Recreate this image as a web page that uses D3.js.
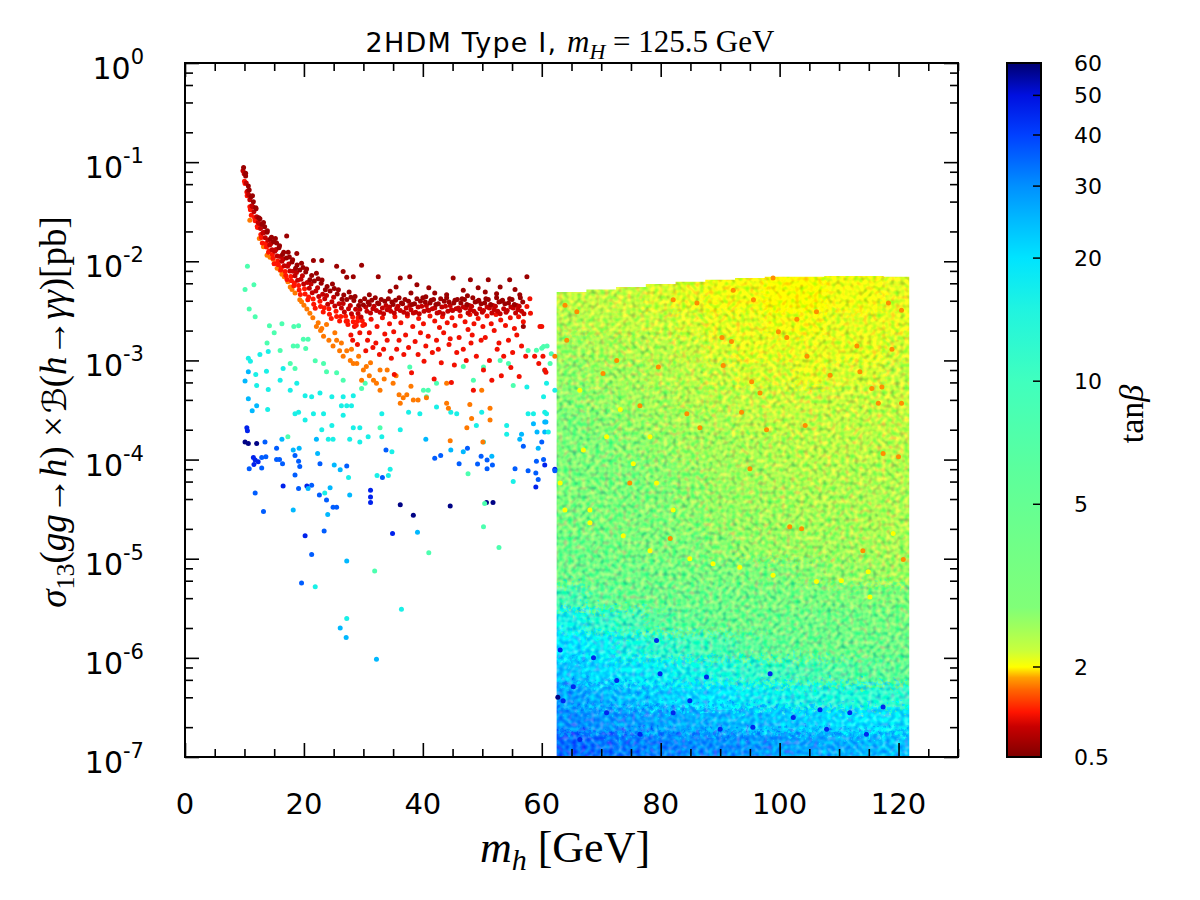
<!DOCTYPE html>
<html lang="en">
<head>
<meta charset="UTF-8">
<title>2HDM Type I scan</title>
<script src="https://d3js.org/d3.v7.min.js"></script>
<style>
  body { margin: 0; background: #fff; }
  .sans { font-family: "DejaVu Sans", sans-serif; }
  .serif { font-family: "Liberation Serif", "DejaVu Serif", serif; }
</style>
</head>
<body>
<svg id="chart" width="1200" height="900"></svg>
<script>
// ---- values ----
const xMajorTicks = [0, 20, 40, 60, 80, 100, 120];
const yExponents = [-7, -6, -5, -4, -3, -2, -1, 0];
const tanTicks = [0.5, 2, 5, 10, 20, 30, 40, 50, 60];

// dense scan region (m_h > 62.5 GeV): column edges, column tops and tan(beta) per cell
const gridMassEdges = [62.5, 67.5, 72.5, 77.5, 82.5, 87.5, 92.5, 97.5, 102.5, 107.5, 112.5, 117.5, 121.8];
const gridTop = [4.9e-3, 5.2e-3, 5.5e-3, 5.9e-3, 6.2e-3, 6.5e-3, 6.8e-3, 7.0e-3, 7.0e-3, 7.1e-3, 7.1e-3, 7.0e-3];
const gridSigmaEdges = [1e-7, 1.8e-7, 3.2e-7, 5.6e-7, 1e-6, 1.8e-6, 3.2e-6, 5.6e-6, 1e-5, 1.8e-5,
                        3.2e-5, 5.6e-5, 1e-4, 1.8e-4, 3.2e-4, 5.6e-4, 1e-3, 1.8e-3, 3.2e-3];
// rows from the bottom (1e-7) upward
const gridTan = [
  [34, 33, 32, 31, 30, 30, 29, 28, 27, 26, 25, 24],
  [30, 29, 28, 27, 26, 25, 24, 23, 22, 21, 20, 19],
  [27, 25, 24, 22, 21, 20, 18, 17, 15, 14, 13, 12],
  [23, 21, 19, 18, 16, 14, 12, 10, 8, 6.5, 5.5, 5],
  [20, 18, 15, 12, 10, 8, 6, 4.8, 4.2, 4.0, 4.0, 4.0],
  [16, 12, 9, 6, 5, 4.2, 4.0, 4.0, 3.9, 3.7, 3.5, 3.4],
  [8, 5, 4.2, 4.0, 4.0, 3.8, 3.6, 3.4, 3.2, 3.0, 2.9, 2.8],
  [4.0, 4.0, 3.8, 3.5, 3.3, 3.1, 2.9, 2.8, 2.7, 2.6, 2.55, 2.5],
  [3.8, 3.5, 3.1, 2.95, 2.85, 2.7, 2.6, 2.55, 2.5, 2.5, 2.45, 2.45],
  [3.2, 3.0, 2.9, 2.8, 2.7, 2.6, 2.55, 2.5, 2.45, 2.45, 2.4, 2.4],
  [2.95, 2.9, 2.85, 2.75, 2.65, 2.55, 2.5, 2.45, 2.4, 2.4, 2.4, 2.4],
  [2.9, 2.85, 2.8, 2.7, 2.6, 2.5, 2.45, 2.4, 2.35, 2.35, 2.35, 2.35],
  [2.85, 2.8, 2.7, 2.6, 2.5, 2.45, 2.4, 2.35, 2.3, 2.3, 2.3, 2.3],
  [2.8, 2.7, 2.6, 2.5, 2.45, 2.4, 2.3, 2.25, 2.25, 2.25, 2.25, 2.25],
  [2.7, 2.6, 2.5, 2.45, 2.35, 2.3, 2.25, 2.2, 2.2, 2.2, 2.2, 2.2],
  [2.6, 2.5, 2.45, 2.35, 2.3, 2.2, 2.15, 2.15, 2.1, 2.15, 2.15, 2.2],
  [2.5, 2.4, 2.35, 2.3, 2.2, 2.15, 2.1, 2.1, 2.1, 2.1, 2.1, 2.15],
  [2.35, 2.3, 2.25, 2.2, 2.15, 2.1, 2.1, 2.05, 2.05, 2.1, 2.1, 2.1],
  [2.25, 2.25, 2.2, 2.15, 2.1, 2.05, 2.05, 2.0, 2.0, 2.05, 2.05, 2.1]
];

// individual points [m_h, sigma x BR], grouped by tan(beta)
const navyPts = [[10.1,1.5e-4],[10.65,1.45e-4],[12.05,1.45e-4],[36.2,3.5e-5],[38.4,2.75e-5],[44.6,3.4e-5],
  [50.7,3.7e-5],[51.8,3.7e-5],[62.7,4.0e-7]];
const deepBluePts = [[10.4,2.1e-4],[10.5,1.95e-4],[11.5,1.05e-4],[11.8,9.9e-5],[12.3,9.5e-5],[11.6,8.9e-5],
  [16.5,5.4e-5],[20.5,5.4e-5],[20.2,1.7e-5],[34.9,1.8e-5],[59.0,5.3e-5],[60.5,8.8e-5],[62.2,8.0e-5],
  [31.2,4.9e-5],[31.2,4.2e-5],[31.2,3.7e-5]];
const bluePts = [[13.45,1.5e-4],[15.4,1.3e-4],[15.9,1.0e-4],[16.4,9.1e-5],[15.4,1.0e-4],[12.9,1.05e-4],
  [13.6,1.07e-4],[10.8,8.1e-5],[12.9,8.2e-5],[11.8,4.6e-5],[13.2,3.0e-5],[18.5,7.0e-5],[19.1,5.1e-5],
  [19.3,8.5e-5],[19.1,9.6e-5],[18.5,1.1e-4],[21.3,5.5e-5],[22.6,4.4e-5],[22.7,9.1e-5],[23.8,3.9e-5],
  [24.9,3.3e-5],[25.5,3.3e-5],[27.2,8.6e-5],[33.2,6.6e-5],[33.8,1.25e-4],[42.0,1.03e-4],[43.0,1.1e-4],
  [46.1,9.1e-5],[47.5,1.3e-4],[49.2,9.0e-5],[49.8,1.08e-4],[50.8,9.9e-5],[50.8,8.1e-5],[51.7,8.8e-5],
  [55.5,8.1e-5],[57.7,7.7e-5],[59.0,7.3e-5],[59.4,6.3e-5],[59.1,9.6e-5],[56.9,1.36e-4],[62.2,7.7e-5],
  [21.3,1.1e-5],[23.4,1.9e-5],[19.6,5.7e-6],[60.0,1.5e-4],[60.3,1.0e-4]];
const lightBluePts = [[10.65,4.1e-4],[10.65,7.7e-4],[10.1,6.2e-4],[11.3,3.1e-4],[12.05,3.5e-4],[16.3,1.6e-4],
  [18.2,1.25e-4],[19.2,1.3e-4],[20.7,5.1e-5],[22.3,1.15e-4],[22.1,1.6e-4],[24.4,5.2e-5],[25.1,8.8e-5],
  [26.1,7.9e-5],[27.7,4.4e-5],[40.5,1.6e-4],[44.7,1.25e-4],[46.8,1.2e-4],[51.6,1.08e-4],[59.4,1.3e-4],
  [56.3,1.6e-4],[56.6,1.8e-4],[58.6,2.3e-4],[59.2,1.9e-4],[60.7,2.4e-4],[24.0,2.8e-5],[18.2,3.1e-5],
  [39.1,1.85e-5],[26.1,2.0e-6],[27.1,1.6e-6],[32.2,9.7e-7],[27.2,9.5e-6],[60.5,2.4e-4],[60.5,1.9e-4]];
const cyanPts = [[10.65,1.05e-3],[11.0,9.8e-4],[12.6,1.15e-3],[14.0,1.23e-3],[16.5,8.3e-4],[13.7,7.8e-4],
  [11.9,7.2e-4],[12.05,5.6e-4],[14.0,5.1e-4],[16.0,6.3e-4],[17.7,5.0e-4],[18.8,5.9e-4],[20.2,4.4e-4],
  [21.3,4.3e-4],[22.7,4.7e-4],[24.7,4.3e-4],[26.6,4.3e-4],[28.3,4.4e-4],[57.5,5.4e-4],[60.5,7.9e-4],
  [60.8,5.9e-4],[60.3,4.3e-4],[62.2,5.0e-4],[60.5,3.0e-4],[18.5,2.9e-4],[19.1,3.0e-4],[20.2,2.5e-4],
  [21.6,2.9e-4],[23.3,2.9e-4],[23.0,2.0e-4],[24.7,2.2e-4],[24.1,1.6e-4],[24.9,1.6e-4],[26.3,3.5e-4],
  [27.2,3.5e-4],[28.0,3.5e-4],[26.6,2.8e-4],[28.3,2.1e-4],[29.4,2.1e-4],[27.7,1.6e-4],[29.4,1.5e-4],
  [30.8,1.7e-4],[33.1,2.9e-4],[33.1,1.7e-4],[36.2,2.0e-4],[37.6,3.0e-4],[39.5,2.9e-4],[42.3,3.4e-4],
  [44.7,3.0e-4],[45.7,2.9e-4],[49.0,2.2e-4],[49.9,3.0e-4],[50.2,1.5e-4],[54.1,2.2e-4],[54.1,1.8e-4],
  [57.7,2.9e-4],[58.6,2.9e-4],[60.8,2.9e-4],[13.9,3.2e-4],[23.5,4.6e-5],[27.5,6.6e-5],[32.3,6.9e-5],
  [34.2,6.9e-5],[34.5,8.0e-5],[34.8,1.2e-4],[61.1,1.9e-4],[55.2,6.0e-5],[21.9,5.2e-6],[36.4,3.1e-6],
  [27.2,2.5e-6]];
const aquaPts = [[10.5,8.9e-3],[10.1,5.2e-3],[11.6,5.8e-3],[10.8,3.3e-3],[11.8,2.75e-3],[14.2,2.24e-3],
  [16.3,2.34e-3],[18.3,2.2e-3],[19.1,2.24e-3],[15.0,1.9e-3],[19.9,1.64e-3],[20.7,1.64e-3],[13.8,1.5e-3],
  [18.2,1.4e-3],[18.9,1.4e-3],[20.3,1.32e-3],[16.0,1.26e-3],[21.9,9.9e-4],[17.7,9.3e-4],[18.5,8.3e-4],
  [23.3,9.3e-4],[23.8,7.7e-4],[25.5,7.5e-4],[26.6,6.3e-4],[29.7,5.2e-4],[30.3,5.9e-4],[37.8,8.6e-4],
  [40.1,5.0e-4],[40.6,4.3e-4],[40.9,5.0e-4],[42.3,5.9e-4],[46.8,8.7e-4],[48.5,6.3e-4],[50.2,8.6e-4],
  [53.0,1.0e-3],[54.4,9.3e-4],[55.2,5.6e-4],[57.7,1.26e-3],[59.1,1.27e-3],[60.3,1.38e-3],[61.4,9.3e-4],
  [60.0,1.33e-3],[60.9,1.4e-3],[61.6,1.17e-3],[17.3,1.7e-4],[32.8,2.1e-4],[47.6,7.2e-5],[50.2,2.1e-5],
  [50.4,3.6e-5],[52.8,1.3e-5],[41.0,1.15e-5],[31.9,7.5e-6]];
const orangePts = [[10.9,2.6e-2],[12.5,1.7e-2],[13.2,1.4e-2],[13.8,1.15e-2],[14.3,1.1e-2],[14.8,1.05e-2],
  [15.0,9.5e-3],[15.5,8.5e-3],[16.0,8.1e-3],[16.3,7.4e-3],[16.7,7.0e-3],[17.3,6.2e-3],[17.7,5.5e-3],
  [18.0,5.2e-3],[18.5,4.8e-3],[19.3,4.1e-3],[19.6,3.9e-3],[20.0,3.6e-3],[20.5,3.3e-3],[21.0,3.0e-3],
  [21.5,2.7e-3],[22.1,2.2e-3],[22.4,2.4e-3],[22.8,2.0e-3],[23.0,2.1e-3],[23.3,1.75e-3],[23.8,2.3e-3],
  [24.2,1.6e-3],[24.9,1.4e-3],[25.2,1.9e-3],[25.5,1.6e-3],[26.0,1.25e-3],[26.3,1.5e-3],[26.6,1.1e-3],
  [27.2,1.25e-3],[27.8,1.0e-3],[28.0,1.3e-3],[28.3,9.3e-4],[28.9,9.3e-4],[29.2,1.1e-3],[29.7,6.3e-4],
  [30.0,8.0e-4],[30.5,8.7e-4],[31.0,7.0e-4],[31.2,9.5e-4],[31.7,6.3e-4],[32.2,5.9e-4],[32.8,5.0e-4],
  [32.8,8.0e-4],[33.5,6.5e-4],[34.0,8.0e-4],[35.0,5.9e-4],[35.5,7.0e-4],[36.0,4.5e-4],[36.7,4.2e-4],
  [37.3,4.5e-4],[38.0,5.5e-4],[39.2,4.0e-4],[40.6,4.2e-4],[44.0,5.9e-4],[44.0,3.7e-4],[44.3,3.3e-4],
  [47.4,2.1e-4],[48.2,2.6e-4],[49.9,5.0e-4],[50.1,1.5e-4],[51.3,3.3e-4],[51.3,2.5e-4],[44.6,1.55e-4],
  [36.2,3.7e-4],[38.4,4.0e-4],[47.9,3.6e-4],[62.2,1.1e-3]];
// red scatter under the plateau
const redPts = [[27.3,2.5e-3],[27.9,1.8e-3],[28.5,2.2e-3],[28.2,1.6e-3],[29.1,2.7e-3],[29.4,1.9e-3],[29.0,1.45e-3],
  [30.2,2.3e-3],[30.7,1.6e-3],[30.4,1.25e-3],[31.3,2.6e-3],[31.0,1.9e-3],[31.6,1.35e-3],[32.3,2.2e-3],
  [32.1,1.5e-3],[32.7,1.15e-3],[33.2,2.7e-3],[33.6,1.85e-3],[33.4,1.3e-3],[34.4,2.35e-3],[34.0,1.6e-3],
  [34.7,1.05e-3],[35.3,2.75e-3],[35.1,1.95e-3],[35.6,1.3e-3],[35.2,7.2e-4],[36.3,2.4e-3],[36.0,1.6e-3],
  [36.8,1.15e-3],[37.4,2.8e-3],[37.1,1.8e-3],[37.6,1.35e-3],[38.3,2.2e-3],[38.1,7.5e-4],[38.7,1.55e-3],
  [39.3,2.65e-3],[39.6,1.9e-3],[39.2,1.15e-3],[40.1,2.35e-3],[40.5,1.4e-3],[40.2,9.8e-4],[41.2,2.8e-3],
  [40.9,1.75e-3],[41.6,1.2e-3],[42.0,2.5e-3],[42.3,1.6e-3],[41.9,6.5e-4],[42.8,2.15e-3],[42.6,1.3e-3],
  [43.3,2.75e-3],[43.5,1.9e-3],[43.1,9.5e-4],[44.1,2.4e-3],[44.4,1.45e-3],[44.9,2.7e-3],[44.6,1.65e-3],
  [44.8,6.0e-4],[45.4,2.25e-3],[45.7,1.2e-3],[45.3,9.0e-4],[46.3,2.8e-3],[46.1,1.7e-3],[47.1,2.45e-3],
  [46.8,1.3e-3],[47.3,1.0e-3],[47.9,2.9e-3],[47.6,2.05e-3],[48.1,1.5e-3],[48.6,2.35e-3],[48.3,1.8e-3],
  [48.5,5.0e-4],[49.3,2.65e-3],[49.0,1.1e-3],[50.1,2.2e-3],[49.8,1.6e-3],[50.2,8.0e-4],[50.8,2.8e-3],
  [50.5,1.7e-3],[51.5,2.35e-3],[51.2,1.0e-3],[51.6,6.3e-4],[52.3,2.9e-3],[52.0,2.0e-3],[52.5,1.3e-3],
  [53.1,2.55e-3],[52.8,1.5e-3],[53.2,7.0e-4],[53.9,2.25e-3],[53.6,1.1e-3],[54.7,2.7e-3],[54.4,1.6e-3],
  [54.8,8.5e-4],[55.4,2.1e-3],[55.1,1.2e-3],[56.1,2.75e-3],[55.8,1.8e-3],[56.2,6.9e-4],[56.9,2.45e-3],
  [56.6,1.4e-3],[57.5,3.5e-3],[57.3,1.1e-3],[58.0,4.2e-3],[58.1,3.0e-3],[58.8,1.1e-3],[59.7,2.2e-3],
  [59.5,9.3e-4],[60.0,2.2e-3],[60.2,1.1e-3],[60.5,8.0e-4],[60.7,7.6e-4]];
// dark-red points lying above the band
const darkRedOutliers = [[17.1,1.8e-2],[18.8,1.2e-2],[21.6,1.02e-2],[23.0,1.02e-2],[25.5,8.9e-3],[26.6,7.9e-3],
  [27.2,6.9e-3],[28.3,7.0e-3],[29.7,9.1e-3],[32.5,7.0e-3],[36.2,6.8e-3],[37.8,7.0e-3],[39.0,5.8e-3],
  [41.0,5.4e-3],[45.1,6.8e-3],[46.8,5.1e-3],[48.0,6.5e-3],[49.3,5.4e-3],[51.0,6.5e-3],[53.0,5.5e-3],
  [54.6,6.5e-3],[57.5,7.0e-3],[56.3,4.6e-3],[52.4,4.7e-3],[44.0,4.6e-3],[38.0,4.8e-3],[34.5,5.0e-3],
  [31.0,4.6e-3],[42.0,4.8e-3],[47.5,4.5e-3],[50.5,4.9e-3],[55.5,5.2e-3],[35.5,5.5e-3],[40.5,4.4e-3],
  [56.9,2.2e-3]];

// the dense curved band and plateau, read as [m_h, log10(sigma x BR)]
const bandUpperLog = [[9.85,-1.053],[10.2,-1.112],[10.2,-1.139],[10.65,-1.24],[10.8,-1.28],[11.1,-1.35],
  [11.35,-1.34],[11.5,-1.40],[11.9,-1.46],[11.95,-1.47],[12.4,-1.56],[12.6,-1.57],[12.95,-1.63],[13.2,-1.61],
  [13.4,-1.652],[13.8,-1.706],[13.85,-1.692],[14.35,-1.774],[14.55,-1.758],[14.9,-1.804],[15.2,-1.77],
  [15.4,-1.816],[15.8,-1.863],[15.9,-1.844],[16.4,-1.931],[16.6,-1.91],[17.05,-1.968],[17.35,-1.91],
  [17.55,-1.958],[18.0,-2.008],[18.1,-1.985],[18.6,-2.07],[18.85,-2.037],[19.3,-2.088],[19.6,-2.02],
  [19.85,-2.063],[20.3,-2.108],[20.45,-2.077],[21.0,-2.185],[21.3,-2.143],[21.75,-2.20],[22.1,-2.12],
  [22.4,-2.176],[22.9,-2.222],[23.05,-2.188],[23.6,-2.288],[23.9,-2.254],[24.4,-2.30],[24.8,-2.23],
  [25.1,-2.275],[25.6,-2.33],[25.8,-2.288],[26.4,-2.384],[26.7,-2.341],[27.2,-2.385],[27.6,-2.31],
  [27.9,-2.363],[28.4,-2.396],[28.6,-2.356],[29.2,-2.446],[29.5,-2.403],[30.0,-2.44],
  [30.2,-2.377],[30.8,-2.411],[31.0,-2.437],[31.4,-2.394],[32.0,-2.369],[32.4,-2.42],[32.6,-2.428],
  [33.0,-2.386],[33.6,-2.403],[34.2,-2.377],[34.8,-2.411],[35.0,-2.437],[35.4,-2.394],[36.0,-2.369],
  [36.4,-2.42],[36.6,-2.428],[37.0,-2.386],[37.6,-2.403],[38.2,-2.437],[38.6,-2.428],[39.0,-2.377],
  [39.6,-2.403],[40.0,-2.369],[40.4,-2.411],[41.2,-2.42],[41.4,-2.394],[41.8,-2.386],[42.2,-2.437],
  [42.6,-2.428],[43.0,-2.377],[43.6,-2.403],[44.0,-2.369],[44.4,-2.411],[45.2,-2.42],[45.4,-2.394],
  [45.8,-2.386],[46.4,-2.42],[46.6,-2.377],[47.0,-2.386],[47.4,-2.437],[48.4,-2.369],[48.8,-2.411],
  [49.2,-2.403],[49.4,-2.394],[49.8,-2.428],[50.4,-2.42],[50.6,-2.377],[51.0,-2.386],[51.4,-2.437],
  [52.4,-2.369],[52.8,-2.411],[53.2,-2.403],[53.4,-2.394],[53.8,-2.428],[54.4,-2.42],[54.6,-2.377],
  [55.0,-2.386],[55.4,-2.437],[56.4,-2.369],[56.8,-2.411]];
const bandMidLog = [[9.95,-1.118],[9.75,-1.086],[10.3,-1.211],[10.55,-1.29],[10.9,-1.38],[10.7,-1.33],
  [11.25,-1.44],[11.6,-1.50],[11.4,-1.45],[12.05,-1.55],[12.3,-1.61],[12.7,-1.67],[12.5,-1.62],
  [13.1,-1.715],[13.5,-1.762],[13.3,-1.707],[13.95,-1.788],[14.25,-1.835],[14.65,-1.883],[14.45,-1.82],
  [15.1,-1.90],[15.5,-1.946],[15.3,-1.881],[16.0,-1.952],[16.3,-1.999],[16.7,-2.046],[16.5,-1.978],
  [17.25,-2.05],[17.65,-2.098],[17.45,-2.028],[18.2,-2.101],[18.5,-2.145],[18.95,-2.192],[18.75,-2.114],
  [19.5,-2.18],[19.95,-2.228],[19.75,-2.146],[20.55,-2.215],[20.9,-2.273],[21.4,-2.318],[21.2,-2.23],
  [22.0,-2.30],[22.5,-2.356],[22.3,-2.266],[23.15,-2.332],[23.5,-2.378],[24.0,-2.434],[23.8,-2.344],
  [24.7,-2.408],[25.2,-2.45],[25.0,-2.363],[25.9,-2.428],[26.3,-2.47],[26.8,-2.511],[26.6,-2.426],
  [27.5,-2.478],[28.0,-2.528],[27.8,-2.446],[28.7,-2.484],[29.1,-2.526],[29.6,-2.563],[29.4,-2.483],
  [30.4,-2.462],[30.6,-2.505],[31.2,-2.522],[31.6,-2.479],[31.8,-2.454],[32.2,-2.496],[32.8,-2.513],
  [33.2,-2.471],[33.4,-2.53],[33.8,-2.445],[34.0,-2.488],[34.4,-2.462],[34.6,-2.505],[35.2,-2.522],
  [35.6,-2.479],[35.8,-2.454],[36.2,-2.496],[36.8,-2.513],[37.2,-2.471],[37.4,-2.53],[37.8,-2.445],
  [38.0,-2.488],[38.4,-2.522],[38.8,-2.513],[39.2,-2.462],[39.4,-2.53],[39.8,-2.454],[40.2,-2.505],
  [40.6,-2.445],[40.8,-2.488],[41.0,-2.496],[41.6,-2.479],[42.0,-2.471],[42.4,-2.522],[42.8,-2.513],
  [43.2,-2.462],[43.4,-2.53],[43.8,-2.454],[44.2,-2.505],[44.6,-2.445],[44.8,-2.488],[45.0,-2.496],
  [45.6,-2.479],[46.0,-2.471],[46.2,-2.496],[46.8,-2.462],[47.2,-2.471],[47.6,-2.522],[47.8,-2.445],
  [48.0,-2.488],[48.2,-2.454],[48.6,-2.505],[49.0,-2.53],[49.6,-2.479],[50.0,-2.513],[50.2,-2.496],
  [50.8,-2.462],[51.2,-2.471],[51.6,-2.522],[51.8,-2.445],[52.0,-2.488],[52.2,-2.454],[52.6,-2.505],
  [53.0,-2.53],[53.6,-2.479],[54.0,-2.513],[54.2,-2.496],[54.8,-2.462],[55.2,-2.471],[55.6,-2.522],
  [55.8,-2.445],[56.0,-2.488],[56.2,-2.454],[56.6,-2.505],[57.0,-2.53]];
const bandLowerLog = [[10.1,-1.216],[10.0,-1.192],[10.4,-1.301],[10.45,-1.34],[11.0,-1.48],[10.9,-1.45],
  [11.15,-1.536],[11.8,-1.59],[11.7,-1.56],[12.15,-1.65],[12.2,-1.66],[12.85,-1.76],[12.75,-1.73],
  [13.0,-1.816],[13.7,-1.856],[13.6,-1.821],[14.05,-1.908],[14.15,-1.896],[14.8,-1.97],[14.7,-1.931],
  [15.0,-2.025],[15.7,-2.035],[15.6,-1.996],[16.1,-2.087],[16.2,-2.066],[16.95,-2.143],[16.85,-2.103],
  [17.15,-2.184],[17.9,-2.197],[17.8,-2.153],[18.3,-2.246],[18.4,-2.22],[19.2,-2.289],[19.1,-2.243],
  [19.4,-2.334],[20.2,-2.329],[20.1,-2.278],[20.65,-2.388],[20.8,-2.36],[21.65,-2.434],[21.55,-2.38],
  [21.9,-2.473],[22.8,-2.456],[22.7,-2.402],[23.25,-2.512],[23.4,-2.468],[24.3,-2.534],[24.2,-2.48],
  [24.6,-2.578],[25.5,-2.558],[25.4,-2.505],[26.0,-2.603],[26.2,-2.556],[27.1,-2.606],[27.0,-2.555],
  [27.4,-2.638],[28.3,-2.611],[28.2,-2.561],[28.8,-2.644],[29.0,-2.606],[29.9,-2.648],[29.8,-2.60]];

// speckles inside the dense region
const orangeSpeckle = [[63.9,3.6e-3],[64.2,1.6e-3],[65.9,3.1e-3],[70.3,7.4e-4],[72.6,1.0e-3],[74.8,5.8e-5],
  [76.5,3.5e-4],[79.6,8.6e-4],[82.1,4.1e-3],[84.4,2.9e-4],[86.1,3.8e-3],[86.6,2.1e-4],[90.3,1.7e-3],
  [90.5,8.9e-4],[91.9,1.55e-3],[92.2,5.1e-3],[93.6,3.0e-4],[95.0,8.1e-5],[95.3,6.1e-4],[95.6,4.1e-3],
  [96.7,4.7e-4],[97.8,2.0e-4],[98.9,6.8e-3],[99.8,1.95e-3],[101.2,1.7e-3],[102.9,2.6e-3],[104.3,2.2e-4],
  [104.6,1.1e-3],[106.2,3.1e-3],[108.5,7.1e-4],[113.0,1.4e-3],[113.5,7.7e-4],[115.5,5.2e-4],[116.6,3.7e-4],
  [117.2,5.4e-4],[117.4,1.15e-4],[118.3,3.8e-3],[118.9,1.3e-3],[120.5,3.7e-4],[120.0,1.07e-4],[120.5,3.2e-3],
  [81.6,1.6e-5],[101.7,2.1e-5],[103.7,2.0e-5],[114.0,1.2e-5],[120.8,9.8e-6]];
const yellowSpeckle = [[110.4,6.0e-6],[119.1,1.8e-5],[98.9,6.8e-6],[106.2,5.9e-6],[114.9,7.4e-6],[115.2,4.1e-6],
  [67.0,1.25e-4],[70.9,1.7e-4],[75.4,9.1e-5],[79.3,5.8e-5],[66.4,5.0e-4],[73.2,3.2e-4],[63.1,5.8e-5],
  [68.1,3.1e-5],[82.1,3.1e-5],[78.2,1.7e-4],[63.9,3.1e-5],[68.1,2.3e-5],[73.7,1.7e-5],[78.2,1.2e-5],
  [84.9,1.0e-5],[88.8,8.9e-6],[93.3,8.2e-6]];
const deepSpeckle = [[63.6,3.7e-7],[65.3,5.1e-7],[68.7,1.0e-6],[72.6,5.9e-7],[79.3,1.5e-6],[79.9,6.9e-7],
  [82.1,2.8e-7],[84.9,3.7e-7],[87.7,6.4e-7],[90.0,1.9e-7],[95.5,2.0e-7],[98.4,6.9e-7],[102.3,2.5e-7],
  [106.8,3.0e-7],[114.6,1.7e-7],[117.4,3.2e-7],[66.4,1.5e-7],[76.5,1.7e-7],[63.1,1.2e-6],[70.9,2.8e-7],
  [107.9,1.9e-7],[111.8,2.8e-7]];

// ---- colour map (tan beta -> colour) ----
const cmapTan = [0.5, 0.8, 1.0, 1.4, 1.7, 2.0, 2.2, 2.5, 2.8, 4, 6, 10, 15, 20, 25, 30, 40, 50, 60];
const cmapHex = ["#7f0000", "#c80000", "#ff1400", "#ff6400", "#ffa000", "#ffff00", "#c8ff3c", "#a0ff5c",
                 "#80ff78", "#70ff88", "#5cff9c", "#40ffbe", "#20f4e0", "#00e4ff", "#00b8ff", "#0090ff",
                 "#0040ff", "#0010e0", "#000070"];
const color = d3.scaleLog().domain(cmapTan).range(cmapHex).interpolate(d3.interpolateRgb).clamp(true);

const svg = d3.select("#chart");
const x = d3.scaleLinear().domain([0, 130]).range([185, 958]);
const y = d3.scaleLog().domain([1e-7, 1]).range([757, 63]);
const cb = d3.scaleLog().domain([0.5, 2, 60]).range([757, 667, 63]);

const defs = svg.append("defs");
// grain for the dense region: jitter the cell edges, then jitter red/green a little
const filt = defs.append("filter").attr("id", "mottle").attr("color-interpolation-filters", "sRGB")
  .attr("x", "-5%").attr("y", "-5%").attr("width", "110%").attr("height", "110%");
filt.append("feTurbulence").attr("type", "fractalNoise").attr("baseFrequency", 0.28)
  .attr("numOctaves", 2).attr("seed", 7).attr("result", "noise");
filt.append("feDisplacementMap").attr("in", "SourceGraphic").attr("in2", "noise")
  .attr("scale", 34).attr("xChannelSelector", "R").attr("yChannelSelector", "G").attr("result", "disp");
filt.append("feTurbulence").attr("type", "fractalNoise").attr("baseFrequency", 0.22)
  .attr("numOctaves", 1).attr("seed", 19).attr("result", "grain");
const ct0 = filt.append("feComponentTransfer").attr("in", "grain").attr("result", "grainC");
ct0.append("feFuncR").attr("type", "linear").attr("slope", 1.0).attr("intercept", 0.25);
ct0.append("feFuncG").attr("type", "linear").attr("slope", 0.7).attr("intercept", 0.4);
ct0.append("feFuncB").attr("type", "linear").attr("slope", 0).attr("intercept", 0.75);
ct0.append("feFuncA").attr("type", "linear").attr("slope", 0).attr("intercept", 1);
filt.append("feComposite").attr("in", "disp").attr("in2", "grainC").attr("operator", "arithmetic")
  .attr("k1", 0).attr("k2", 1).attr("k3", 1).attr("k4", -0.75);

// clip for the dense region
const nCol = gridMassEdges.length - 1;
const clipPts = [[x(gridMassEdges[0]), y(1e-7)]];
for (let c = 0; c < nCol; c++) {
  clipPts.push([x(gridMassEdges[c]), y(gridTop[c])], [x(gridMassEdges[c + 1]), y(gridTop[c])]);
}
clipPts.push([x(gridMassEdges[nCol]), y(1e-7)]);
defs.append("clipPath").attr("id", "regionClip").append("polygon")
  .attr("points", clipPts.map(p => p.join(",")).join(" "));

// dense region cells
const cells = [];
gridTan.forEach((row, r) => row.forEach((t, c) => cells.push({ r, c, t })));
const lastRow = gridTan.length - 1;
const pad = 22;
const cellTop = d => y(d.r === lastRow ? gridTop[d.c] : gridSigmaEdges[d.r + 1]) - (d.r === lastRow ? pad : 0);
const region = svg.append("g").attr("clip-path", "url(#regionClip)")
  .append("g").attr("filter", "url(#mottle)");
region.selectAll("rect").data(cells).join("rect")
  .attr("x", d => x(gridMassEdges[d.c]) - (d.c === 0 ? pad : 0))
  .attr("width", d => x(gridMassEdges[d.c + 1]) - x(gridMassEdges[d.c]) + 1 + (d.c === 0 || d.c === nCol - 1 ? pad : 0))
  .attr("y", cellTop)
  .attr("height", d => y(gridSigmaEdges[d.r]) + (d.r === 0 ? pad : 1) - cellTop(d))
  .attr("fill", d => color(d.t));

// scattered points
const fromLog = arr => arr.map(d => [d[0], Math.pow(10, d[1])]);
const groups = [
  { tan: 45, pts: deepSpeckle },
  { tan: 2.0, pts: yellowSpeckle },
  { tan: 1.6, pts: orangeSpeckle },
  { tan: 58, pts: navyPts },
  { tan: 46, pts: deepBluePts },
  { tan: 36, pts: bluePts },
  { tan: 25, pts: lightBluePts },
  { tan: 16, pts: cyanPts },
  { tan: 8, pts: aquaPts },
  { tan: 1.5, pts: orangePts },
  { tan: 0.95, pts: redPts },
  { tan: 1.0, pts: fromLog(bandLowerLog) },
  { tan: 0.78, pts: fromLog(bandMidLog) },
  { tan: 0.6, pts: fromLog(bandUpperLog) },
  { tan: 0.6, pts: darkRedOutliers }
];
const ptsG = svg.append("g");
groups.forEach(g => {
  ptsG.append("g").selectAll("circle").data(g.pts).join("circle")
    .attr("cx", d => x(d[0])).attr("cy", d => y(d[1])).attr("r", 2.5)
    .attr("fill", color(g.tan));
});

// ---- axes: ticks inside on all four sides ----
const xMinor = d3.range(0, 131, 5).filter(v => v % 20 !== 0);
const yMajor = yExponents.map(k => Math.pow(10, k));
const yMinor = [];
yExponents.slice(0, -1).forEach(k => [2, 4, 6, 8].forEach(m => yMinor.push(m * Math.pow(10, k))));

function tickAxis(axisFn, scale, values, size, tr) {
  const g = svg.append("g").attr("transform", tr)
    .call(axisFn(scale).tickValues(values).tickSize(-size).tickFormat(""));
  g.select(".domain").remove();
  g.selectAll("line").attr("stroke", "#000").attr("stroke-width", 1.6);
}
tickAxis(d3.axisBottom, x, xMajorTicks, 14, "translate(0,757)");
tickAxis(d3.axisBottom, x, xMinor, 8, "translate(0,757)");
tickAxis(d3.axisTop, x, xMajorTicks, 14, "translate(0,63)");
tickAxis(d3.axisTop, x, xMinor, 8, "translate(0,63)");
tickAxis(d3.axisLeft, y, yMajor, 14, "translate(185,0)");
tickAxis(d3.axisLeft, y, yMinor, 8, "translate(185,0)");
tickAxis(d3.axisRight, y, yMajor, 14, "translate(958,0)");
tickAxis(d3.axisRight, y, yMinor, 8, "translate(958,0)");

svg.append("rect").attr("x", 185).attr("y", 63).attr("width", 773).attr("height", 694)
  .attr("fill", "none").attr("stroke", "#000").attr("stroke-width", 2);

// x tick labels
svg.append("g").selectAll("text").data(xMajorTicks).join("text")
  .attr("class", "sans").attr("x", d => x(d)).attr("y", 814)
  .attr("text-anchor", "middle").attr("font-size", 29).text(d => d);

// y tick labels 10^k
const yl = svg.append("g").selectAll("text").data(yExponents).join("text")
  .attr("class", "sans").attr("x", 144).attr("y", d => y(Math.pow(10, d)) + 16)
  .attr("text-anchor", "end").attr("font-size", 30);
yl.append("tspan").text("10");
yl.append("tspan").attr("dy", -15).attr("font-size", 21).text(d => d === 0 ? "0" : "-" + (-d));

// title
const title = svg.append("text").attr("x", 570).attr("y", 52).attr("text-anchor", "middle");
title.append("tspan").attr("class", "sans").attr("font-size", 27).attr("letter-spacing", 1.2).text("2HDM Type I, ");
title.append("tspan").attr("class", "serif").attr("font-style", "italic").attr("font-size", 31).text("m");
title.append("tspan").attr("class", "serif").attr("font-style", "italic").attr("font-size", 22).attr("dy", 7).text("H");
title.append("tspan").attr("class", "serif").attr("font-size", 31).attr("dy", -7).text(" = 125.5 GeV");

// x axis title
const xt = svg.append("text").attr("class", "serif").attr("x", 565).attr("y", 862)
  .attr("text-anchor", "middle").attr("font-size", 44);
xt.append("tspan").attr("font-style", "italic").text("m");
xt.append("tspan").attr("font-style", "italic").attr("font-size", 30).attr("dy", 8).text("h");
xt.append("tspan").attr("dy", -8).text(" [GeV]");

// y axis title
const yt = svg.append("text").attr("class", "serif").attr("font-size", 37)
  .attr("text-anchor", "middle").attr("transform", "translate(66,412) rotate(-90)");
yt.append("tspan").attr("font-style", "italic").text("σ");
yt.append("tspan").attr("font-size", 26).attr("dy", 8).text("13");
yt.append("tspan").attr("dy", -8).text("(");
yt.append("tspan").attr("font-style", "italic").text("gg");
yt.append("tspan").text("→");
yt.append("tspan").attr("font-style", "italic").text("h");
yt.append("tspan").text(") ×");
yt.append("tspan").attr("font-family", "DejaVu Sans").attr("font-size", 33).attr("dx", 3).text("ℬ");
yt.append("tspan").text("(");
yt.append("tspan").attr("font-style", "italic").text("h");
yt.append("tspan").text("→");
yt.append("tspan").attr("font-style", "italic").text("γγ");
yt.append("tspan").text(")[pb]");

// ---- colour bar ----
const cbX = 1007, cbW = 34, cbTop = 63, cbBot = 757;
const grad = defs.append("linearGradient").attr("id", "cbGrad")
  .attr("x1", 0).attr("y1", 0).attr("x2", 0).attr("y2", 1);
grad.selectAll("stop").data(cmapTan.slice().reverse()).join("stop")
  .attr("offset", t => (cb(t) - cbTop) / (cbBot - cbTop))
  .attr("stop-color", t => color(t));
svg.append("rect").attr("x", cbX).attr("y", cbTop).attr("width", cbW).attr("height", cbBot - cbTop)
  .attr("fill", "url(#cbGrad)").attr("stroke", "#000").attr("stroke-width", 2);
svg.append("g").selectAll("line").data(tanTicks.filter(t => t > 0.5 && t < 60)).join("line")
  .attr("x1", cbX + cbW - 8).attr("x2", cbX + cbW).attr("y1", t => cb(t)).attr("y2", t => cb(t))
  .attr("stroke", "#000").attr("stroke-width", 1.5);
svg.append("g").selectAll("text").data(tanTicks).join("text")
  .attr("class", "sans").attr("x", 1074).attr("y", t => cb(t) + 8)
  .attr("font-size", 22).text(t => t);

const ct = svg.append("text").attr("class", "serif").attr("font-size", 34)
  .attr("text-anchor", "middle").attr("transform", "translate(1143,414) rotate(-90)");
ct.append("tspan").text("tan");
ct.append("tspan").attr("font-style", "italic").text("β");
</script>
</body>
</html>
